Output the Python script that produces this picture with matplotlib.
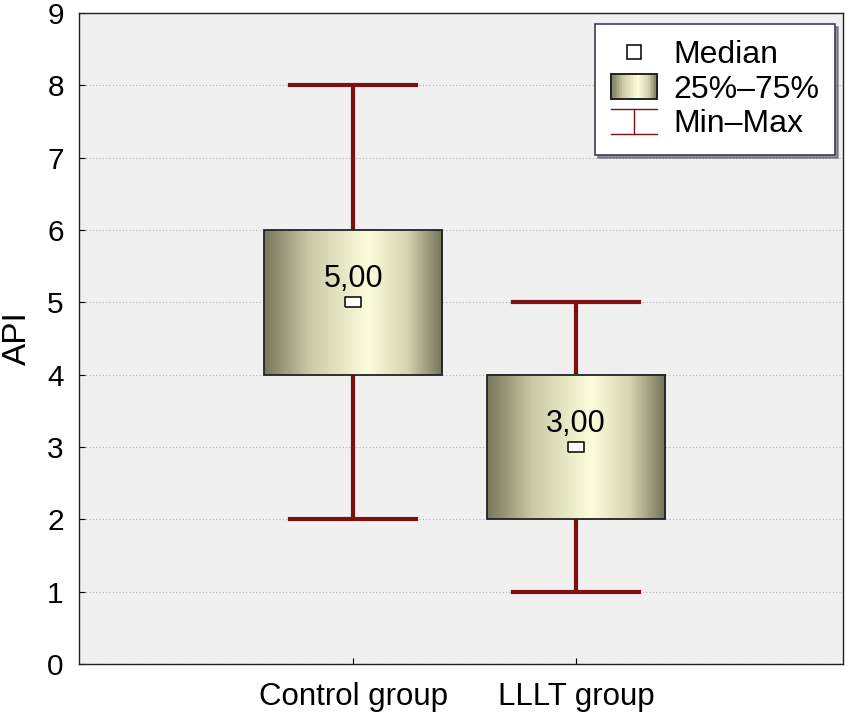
import numpy as np
import matplotlib
matplotlib.use("Agg")
import matplotlib.pyplot as plt
from matplotlib.patches import Rectangle
from matplotlib.lines import Line2D
from matplotlib.legend_handler import HandlerBase
from matplotlib.colors import LinearSegmentedColormap

categories = ["Control group", "LLLT group"]
minimums = [2, 1]
q1s = [4, 2]
medians = [5, 3]
q3s = [6, 4]
maximums = [8, 5]
median_labels = ["5,00", "3,00"]
yticks = [0, 1, 2, 3, 4, 5, 6, 7, 8, 9]

plt.rcParams['font.family'] = ['Liberation Sans', 'DejaVu Sans']

whisk_col = "#7d1010"
cmap = LinearSegmentedColormap.from_list(
    "box", [(0.0, "#76765a"), (0.25, "#c9c9a4"), (0.58, "#fdfddc"), (0.8, "#d6d6b2"), (1.0, "#727256")])

rect_marker = [(-1, -0.64), (1, -0.64), (1, 0.64), (-1, 0.64), (-1, -0.64)]

fig = plt.figure(figsize=(8.5, 7.14), dpi=100)
ax = fig.add_axes([0.093, 0.070, 0.899, 0.912])
ax.set_facecolor("#f0f0f0")

box_w = 0.8
cap_w = 0.565
positions = np.arange(len(categories))
grad = np.linspace(0, 1, 256).reshape(1, -1)

for x, lo, a, m, b, hi, lab in zip(positions, minimums, q1s, medians, q3s, maximums, median_labels):
    ax.plot([x, x], [lo, a], color=whisk_col, lw=3.0, zorder=2, solid_capstyle='butt')
    ax.plot([x, x], [b, hi], color=whisk_col, lw=3.0, zorder=2, solid_capstyle='butt')
    ax.plot([x - cap_w / 2, x + cap_w / 2], [lo, lo], color=whisk_col, lw=3.0, zorder=2)
    ax.plot([x - cap_w / 2, x + cap_w / 2], [hi, hi], color=whisk_col, lw=3.0, zorder=2)
    ax.imshow(grad, cmap=cmap, aspect='auto', extent=[x - box_w / 2, x + box_w / 2, a, b], zorder=3, interpolation='bilinear')
    ax.add_patch(Rectangle((x - box_w / 2, a), box_w, b - a, fill=False, edgecolor="#222222", lw=1.3, zorder=4))
    ax.plot([x], [m], marker=rect_marker, markersize=11, markerfacecolor='white', markeredgecolor='black', markeredgewidth=1.1, ls='none', zorder=5)
    ax.text(x, m + 0.21, lab, ha='center', va='baseline', fontsize=22, zorder=6)

ax.set_xlim(-1.229, 2.197)
ax.set_ylim(0, 9)
ax.set_yticks(yticks)
ax.set_yticklabels([str(t) for t in yticks], fontsize=21.5)
ax.set_xticks(positions)
ax.set_xticklabels(categories, fontsize=22.5)
ax.tick_params(direction='in', length=4, width=0.8)
ax.tick_params(axis='y', pad=11)
ax.tick_params(axis='x', pad=13)
ax.yaxis.grid(True, linestyle=(0, (1, 2)), color='#b0b0b0', lw=0.8)
ax.set_axisbelow(True)
for s in ax.spines.values():
    s.set_linewidth(1.0)
    s.set_color('#222222')
ax.set_ylabel("API", fontsize=24, labelpad=10)


class GradHandler(HandlerBase):
    def create_artists(self, legend, orig_handle, xdescent, ydescent, width, height, fontsize, trans):
        arts = []
        n = 30
        h = height * 1.1
        y0 = -ydescent - (h - height) / 2
        for i in range(n):
            c = cmap((i + 0.5) / n)
            arts.append(Rectangle((-xdescent + width * i / n, y0), width / n, h, facecolor=c, edgecolor='none', transform=trans))
        arts.append(Rectangle((-xdescent, y0), width, h, fill=False, edgecolor='#222222', lw=1.4, transform=trans))
        return arts


class WhiskHandler(HandlerBase):
    def create_artists(self, legend, orig_handle, xdescent, ydescent, width, height, fontsize, trans):
        x0, x1 = -xdescent, -xdescent + width
        xm = (x0 + x1) / 2
        yb = -ydescent - height * 0.05
        yt = -ydescent + height * 1.05
        l1 = Line2D([x0, x1], [yt, yt], color=whisk_col, lw=1.0, transform=trans)
        l2 = Line2D([x0, x1], [yb, yb], color=whisk_col, lw=1.0, transform=trans)
        l3 = Line2D([xm, xm], [yb, yt], color=whisk_col, lw=1.0, transform=trans)
        return [l1, l2, l3]


class Grad: pass
class Whisk: pass

med_handle = Line2D([], [], marker='s', markersize=10, markerfacecolor='white', markeredgecolor='black', markeredgewidth=1.1, ls='none')
leg = ax.legend([med_handle, Grad(), Whisk()], ["Median", "25%\u201375%", "Min\u2013Max"],
                handler_map={Grad: GradHandler(), Whisk: WhiskHandler()},
                loc='upper right', bbox_to_anchor=(0.9895, 0.983), borderaxespad=0,
                fontsize=23, frameon=True, fancybox=False,
                shadow={'color': '#555566', 'alpha': 0.6}, handlelength=1.45, handletextpad=0.5,
                labelspacing=0.15, borderpad=0.5)
leg.get_frame().set_edgecolor('#3c3c5a')
leg.get_frame().set_facecolor('white')
leg.get_frame().set_linewidth(1.2)
leg.get_frame().set_alpha(1)

fig.savefig("out.png", dpi=100, facecolor='white')
